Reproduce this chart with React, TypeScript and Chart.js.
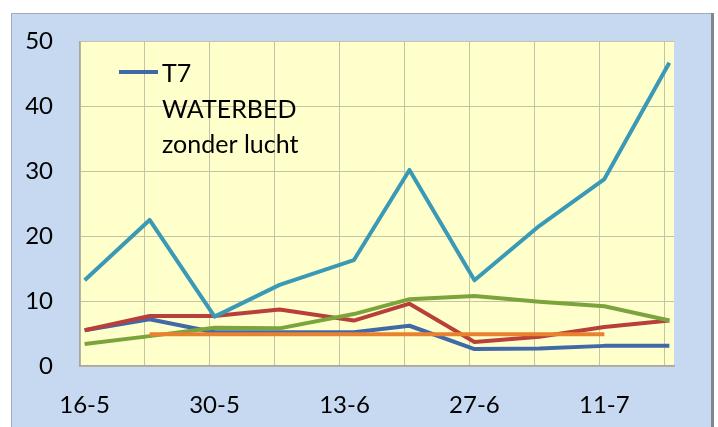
import React, { useEffect, useRef } from 'react';
import { Chart, registerables } from 'chart.js';

Chart.register(...registerables);

// Measurement dates and their day offset from 16-5
const dates = ['16-5', '23-5', '30-5', '6-6', '14-6', '20-6', '27-6', '4-7', '11-7', '18-7'];
const dayOffsets = [0, 7, 14, 21, 29, 35, 42, 49, 56, 63];
// Weekly gridline dates (every other one labelled)
const weekTicks = ['16-5', '23-5', '30-5', '6-6', '13-6', '20-6', '27-6', '4-7', '11-7', '18-7'];
const yTicks = [0, 10, 20, 30, 40, 50];

const legendLines = ['T7', 'WATERBED', 'zonder lucht'];

const t7Waterbed = [5.5, 7.2, 5.2, 5.2, 5.2, 6.2, 2.6, 2.7, 3.1, 3.1];
const seriesRed = [5.5, 7.7, 7.7, 8.7, 7.0, 9.6, 3.7, 4.5, 6.0, 7.0];
const seriesGreen = [3.4, 4.6, 5.9, 5.8, 8.0, 10.3, 10.8, 9.9, 9.2, 7.0];
const seriesOrange = [null, 4.9, 4.9, 4.9, 4.9, 4.9, 4.9, 4.9, 4.9, null];
const seriesTeal = [13.2, 22.5, 7.6, 12.5, 16.3, 30.2, 13.2, 21.6, 28.8, 46.7];

const FONT = 'Lato, "Open Sans", sans-serif';
const gridColor = '#C4C3A6';
const axisColor = '#A8A8A0';

const toPoints = (vals: (number | null)[]) =>
  vals.map((v, i) => ({ x: dayOffsets[i], y: v }));

export default function App() {
  const ref = useRef<HTMLCanvasElement | null>(null);

  useEffect(() => {
    if (!ref.current) return;

    const bgPlugin = {
      id: 'bg',
      beforeDraw(chart: any) {
        const { ctx, chartArea } = chart;
        ctx.save();
        ctx.fillStyle = '#ffffff';
        ctx.fillRect(0, 0, chart.width, chart.height);
        ctx.fillStyle = '#C6D9F0';
        ctx.fillRect(11, 13, 701, 420);
        ctx.strokeStyle = '#A3AAB2';
        ctx.lineWidth = 1;
        ctx.beginPath();
        ctx.moveTo(11.5, 440);
        ctx.lineTo(11.5, 13.5);
        ctx.lineTo(712, 13.5);
        ctx.stroke();
        ctx.fillStyle = '#80878F';
        ctx.fillRect(711, 13, 3, 420);
        ctx.fillStyle = '#FFFFCC';
        ctx.fillRect(chartArea.left, chartArea.top, chartArea.right - chartArea.left, chartArea.bottom - chartArea.top);
        ctx.restore();
      },
    };

    const legendPlugin = {
      id: 'customLegend',
      afterDraw(chart: any) {
        const { ctx } = chart;
        ctx.save();
        ctx.strokeStyle = '#4169A8';
        ctx.lineWidth = 4;
        ctx.beginPath();
        ctx.moveTo(119, 72);
        ctx.lineTo(158, 72);
        ctx.stroke();
        ctx.fillStyle = '#000';
        ctx.font = `25px ${FONT}`;
        ctx.textBaseline = 'alphabetic';
        ctx.textAlign = 'left';
        legendLines.forEach((t, i) => {
          ctx.fillText(t, 162, 82 + i * 35.5);
        });
        ctx.restore();
      },
    };

    const common = { pointRadius: 0, borderWidth: 4, tension: 0, fill: false, borderJoinStyle: 'round' as const };

    const chart = new Chart(ref.current, {
      type: 'line',
      data: {
        datasets: [
          { label: 'T7 WATERBED zonder lucht', data: toPoints(t7Waterbed), borderColor: '#4169A8', order: 4, ...common },
          { label: 'Serie 2', data: toPoints(seriesRed), borderColor: '#B9403A', order: 3, ...common },
          { label: 'Serie 3', data: toPoints(seriesGreen), borderColor: '#7BA43D', order: 2, ...common },
          { label: 'Serie 4', data: toPoints(seriesOrange), borderColor: '#E8822E', order: 1, ...common },
          { label: 'Serie 5', data: toPoints(seriesTeal), borderColor: '#3A9AB6', order: 0, ...common },
        ],
      },
      options: {
        responsive: false,
        animation: false,
        layout: { padding: { left: 0, top: 40, right: 44, bottom: 0 } },
        plugins: { legend: { display: false }, tooltip: { enabled: false } },
        scales: {
          x: {
            type: 'linear',
            min: -0.5,
            max: 63.5,
            afterBuildTicks: (s: any) => {
              s.ticks = weekTicks.map((_, i) => ({ value: -0.5 + 7 * i }));
            },
            afterFit: (s: any) => {
              s.height = 61;
            },
            ticks: {
              autoSkip: false,
              maxRotation: 0,
              minRotation: 0,
              labelOffset: 4.6,
              padding: 25,
              color: '#000',
              font: { family: FONT, size: 24 },
              callback: (_v: any, i: number) => (i % 2 === 0 ? weekTicks[i] : ''),
            },
            grid: { color: gridColor, lineWidth: 1, drawTicks: false },
            border: { display: true, color: axisColor, width: 1.5 },
          },
          y: {
            min: 0,
            max: 50,
            afterBuildTicks: (s: any) => {
              s.ticks = yTicks.map((v) => ({ value: v }));
            },
            afterFit: (s: any) => {
              s.width = 80;
            },
            ticks: {
              padding: 27,
              color: '#000',
              font: { family: FONT, size: 24 },
            },
            grid: { color: gridColor, lineWidth: 1, drawTicks: false },
            border: { display: true, color: axisColor, width: 1.5 },
          },
        },
      },
      plugins: [bgPlugin, legendPlugin],
    });

    return () => chart.destroy();
  }, []);

  return (
    <div style={{ position: 'absolute', left: 0, top: 0, width: 718, height: 427 }}>
      <canvas ref={ref} width={718} height={427} style={{ width: 718, height: 427, display: 'block' }} />
    </div>
  );
}
